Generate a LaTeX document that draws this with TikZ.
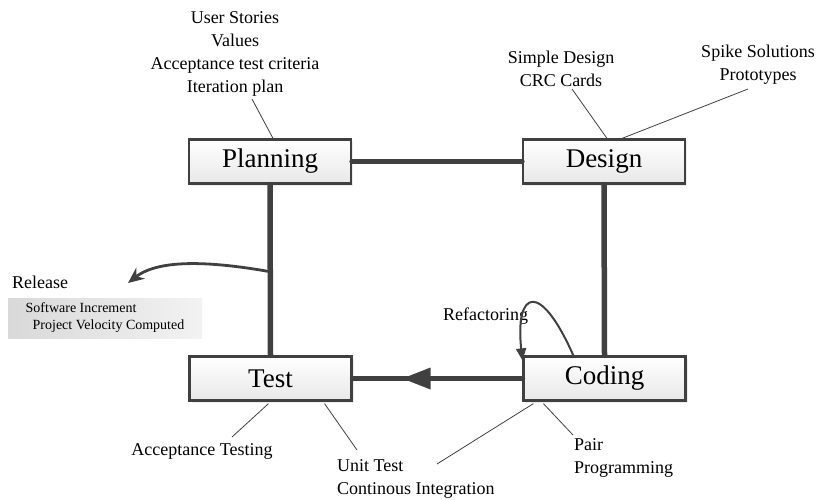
\documentclass[tikz,border=0pt]{standalone}
\usepackage{fontspec}
\setmainfont{Liberation Serif}
\newfontfamily\tms{Liberation Serif}
\usetikzlibrary{arrows.meta,calc,shadows}
\definecolor{ln}{HTML}{404040}
\tikzset{
  phase/.style={draw=ln, line width=2.2pt, top color=white, bottom color=black!9,
    minimum width=162pt, minimum height=44pt, inner sep=0pt,
    font=\tms\fontsize{27}{32}\selectfont,
    drop shadow={shadow xshift=2pt, shadow yshift=-2pt, opacity=0.15}},
  flow/.style={draw=ln, line width=5.5pt, line cap=round},
  lbl/.style={font=\tms\fontsize{18}{22.7}\selectfont, inner sep=0pt, align=center},
  lead/.style={draw=ln, line width=0.8pt},
  relbox/.style={left color=black!15, right color=black!5, minimum width=194pt,
    minimum height=40pt, inner sep=0pt, align=left,
    font=\tms\fontsize{14}{17}\selectfont},
}
\begin{document}
\begin{tikzpicture}[x=1pt,y=-1pt]
\useasboundingbox (0,0) rectangle (819,500);

% phase boxes
\node[phase] (Planning) at (270,161.5) {Planning};
\node[phase] (Design) at (604,161.5) {Design};
\node[phase] (Test) at (270.5,378.5) {Test};
\node[phase] (Coding) at (604.5,378.5) {Coding};

% thick cycle connectors
\draw[flow] (Planning.east) -- (Design.west);
\draw[flow] (Planning.south) -- (Test.north);
\draw[flow] (Design.south) -- (Coding.north);
\draw[flow] (Coding.west) -- (Test.east);
\coordinate (tip) at ($(Coding.west)!0.706!(Test.east)$);
\fill[ln] (tip) -- ($(tip)+(28,-11)$) -- ($(tip)+(28,11)$) -- cycle;

% labels
\node[lbl] (planlbl) at (235,54) {User Stories\\Values\\Acceptance test criteria\\Iteration plan};
\node[lbl] (deslbl) at (561,68.5) {Simple Design\\CRC Cards};
\node[lbl] (spikelbl) at (758,65) {Spike Solutions\\Prototypes};
\node[lbl] (acclbl) at (202,451) {Acceptance Testing};
\node[lbl, align=left, anchor=west] (unitlbl) at (337,479) {Unit Test\\Continous Integration};
\node[lbl, align=left, anchor=west] (pairlbl) at (574,458) {Pair\\Programming};
\node[lbl, anchor=west] (reflbl) at (443,316) {Refactoring};
\node[lbl, anchor=west] (rellbl) at (12,282) {Release};
\node[relbox] (rel) at (105,318) {Software Increment\\\hspace*{7pt}Project Velocity Computed};

% leader lines
\coordinate (l1) at (252,99);
\draw[lead] (l1) -- ($(Planning.north)+(3,0)$);
\coordinate (l2) at (572,89);
\draw[lead] (l2) -- ($(Design.north)+(3,0)$);
\coordinate (l3) at (748,89);
\draw[lead] (l3) -- ($(Design.north)+(18,0)$);
\coordinate (l4) at (232,437);
\draw[lead] (l4) -- ($(Test.south)+(-2,2)$);
\coordinate (l5) at (357,450);
\draw[lead] (l5) -- ($(Test.south)+(54,2)$);
\coordinate (l6) at (437,464);
\draw[lead] (l6) -- ($(Coding.south west)+(11,2)$);
\coordinate (l7) at (573,435);
\draw[lead] (l7) -- ($(Coding.south west)+(21,2)$);

% release arrow
\coordinate (rs) at ($(Planning.south)!0.51!(Test.north)$);
\coordinate (re) at (128,283);
\draw[ln, line width=2.8pt, -{Stealth[length=16pt,width=14pt]}] (rs) .. controls (215,262) and (160,258) .. (re);

% refactoring loop
\coordinate (rf1) at ($(Coding.north west)!0.31!(Coding.north east)$);
\coordinate (rf2) at ($(Coding.north west)+(0,5)$);
\draw[ln, line width=2pt, -{Triangle[length=12pt,width=10pt]}] (rf1) .. controls (540,280) and (515,290) .. (rf2);
\end{tikzpicture}
\end{document}
